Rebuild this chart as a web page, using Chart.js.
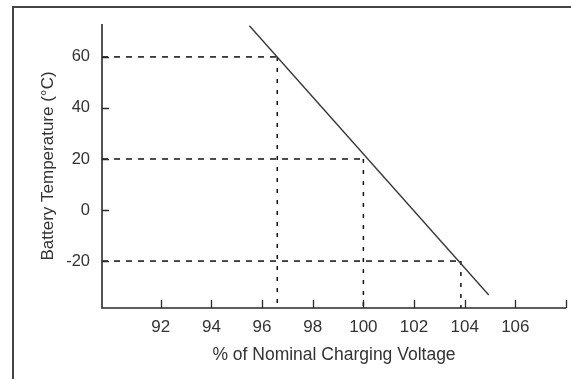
<!DOCTYPE html>
<html>
<head>
<meta charset="utf-8">
<script src="https://cdn.jsdelivr.net/npm/chart.js@4/dist/chart.umd.min.js"></script>
<style>
  html, body { margin: 0; padding: 0; background: #fff; }
  #wrap { width: 571px; height: 379px; position: relative; }
</style>
</head>
<body>
<div id="wrap"><canvas id="c" width="571" height="379"></canvas></div>
<script>
// ---- data ----
const lineVolts = [95.5, 104.95];      // % of nominal charging voltage (line ends)
const lineTemps = [72.2, -33.3];       // battery temperature (°C) at those ends
const refVolts  = [96.6, 100.0, 103.85]; // dashed reference points
const refTemps  = [60, 20, -20];
const xTickValues = [92, 94, 96, 98, 100, 102, 104, 106];
const xTickMarks  = [92, 94, 96, 98, 100, 102, 104, 106, 108];
const yTickValues = [-20, 0, 20, 40, 60];
const X_MIN = 89.68, X_MAX = 108;
const Y_MIN = -38.4, Y_MAX = 72.9;

const INK = '#2a2a2a';
const FONT = 'Liberation Sans, Arial, sans-serif';

const datasets = [];
datasets.push({
  label: 'limit',
  data: lineVolts.map((v, i) => ({x: v, y: lineTemps[i]})),
  showLine: true, borderColor: '#3a3a3a', borderWidth: 1.4,
  pointRadius: 0, fill: false
});
refVolts.forEach((v, i) => {
  datasets.push({
    label: 'h' + i,
    data: [{x: X_MIN, y: refTemps[i]}, {x: v, y: refTemps[i]}],
    showLine: true, borderColor: '#111', borderWidth: 1.5, borderDash: [6, 6],
    pointRadius: 0, fill: false
  });
  datasets.push({
    label: 'v' + i,
    data: [{x: v, y: refTemps[i]}, {x: v, y: Y_MIN}],
    showLine: true, borderColor: '#111', borderWidth: 1.5, borderDash: [4, 7],
    pointRadius: 0, fill: false
  });
});

const framePlugin = {
  id: 'frame',
  beforeDraw(chart) {
    const ctx = chart.ctx;
    ctx.save();
    ctx.fillStyle = '#fff';
    ctx.fillRect(0, 0, chart.width, chart.height);
    ctx.strokeStyle = '#444';
    ctx.lineWidth = 2;
    ctx.beginPath();
    ctx.moveTo(13, chart.height);
    ctx.lineTo(13, 7);
    ctx.lineTo(chart.width, 7);
    ctx.stroke();
    ctx.restore();
  },
  afterDatasetsDraw(chart) {
    const ctx = chart.ctx;
    const xs = chart.scales.x, ys = chart.scales.y;
    const a = chart.chartArea;
    ctx.save();
    ctx.strokeStyle = INK;
    ctx.lineWidth = 1.6;
    ctx.beginPath();
    ctx.moveTo(a.left, a.top);
    ctx.lineTo(a.left, a.bottom);
    ctx.lineTo(a.right, a.bottom);
    ctx.stroke();
    ctx.lineWidth = 1.3;
    ctx.beginPath();
    xTickMarks.forEach(v => {
      const px = Math.round(xs.getPixelForValue(v)) + 0.5;
      ctx.moveTo(px, a.bottom);
      ctx.lineTo(px, a.bottom - 8);
    });
    yTickValues.forEach(v => {
      const py = Math.round(ys.getPixelForValue(v)) + 0.5;
      ctx.moveTo(a.left, py);
      ctx.lineTo(a.left + 7, py);
    });
    ctx.stroke();
    ctx.restore();
  }
};

new Chart(document.getElementById('c'), {
  type: 'scatter',
  data: { datasets },
  plugins: [framePlugin],
  options: {
    responsive: false,
    animation: false,
    events: [],
    layout: { padding: { left: 0, top: 24, right: 5, bottom: 0 } },
    plugins: { legend: { display: false }, tooltip: { enabled: false } },
    scales: {
      x: {
        type: 'linear', min: X_MIN, max: X_MAX,
        afterBuildTicks: s => { s.ticks = xTickValues.map(v => ({value: v})); },
        afterFit: s => { s.height = 71; },
        grid: { display: false, drawTicks: false },
        border: { display: false },
        ticks: { color: '#333', font: { family: FONT, size: 17 }, padding: 9, maxRotation: 0, autoSkip: false },
        title: { display: true, text: '% of Nominal Charging Voltage', color: '#333',
                 font: { family: FONT, size: 17.5 }, padding: { top: 0, bottom: 13.5 } }
      },
      y: {
        type: 'linear', min: Y_MIN, max: Y_MAX,
        afterBuildTicks: s => { s.ticks = yTickValues.map(v => ({value: v})); },
        afterFit: s => { s.width = 102; },
        grid: { display: false, drawTicks: false },
        border: { display: false },
        ticks: { color: '#333', font: { family: FONT, size: 16.5 }, padding: 12, autoSkip: false },
        title: { display: true, text: 'Battery Temperature (°C)', color: '#333',
                 font: { family: FONT, size: 17 }, padding: { top: 38.5, bottom: 0 } }
      }
    }
  }
});
</script>
</body>
</html>
